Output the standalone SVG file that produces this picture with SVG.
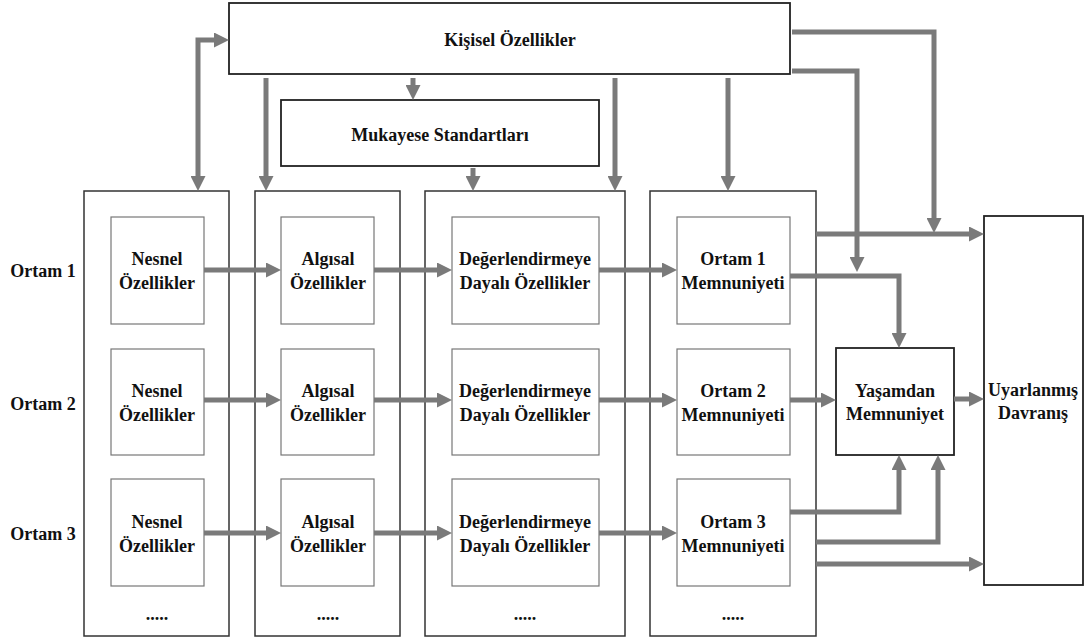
<svg xmlns="http://www.w3.org/2000/svg" width="1084" height="639" viewBox="0 0 1084 639">
<style>
.outer{fill:#fff;stroke:#333;stroke-width:1.5}
.inner{fill:#fff;stroke:#777;stroke-width:1.2}
.box{fill:#fff;stroke:#222;stroke-width:1.8}
text{font-family:"Liberation Serif","Times New Roman",serif;font-weight:bold;font-size:18px;fill:#111;text-anchor:middle}
.lbl{font-size:18px}
.c path{fill:none;stroke:#7a7a7a;stroke-width:5;marker-end:url(#ah)}
</style>
<defs>
<marker id="ah" markerUnits="userSpaceOnUse" markerWidth="15" markerHeight="15" refX="7" refY="7.5" orient="auto-start-reverse">
<path d="M0,0 L15,7.5 L0,15 z" fill="#7a7a7a"/>
</marker>
</defs>
<rect width="1084" height="639" fill="#fff"/>

<g id="kisisel">
<rect class="box" x="229" y="3" width="561" height="71"/>
<text x="510" y="46">Kişisel Özellikler</text>
</g>
<g id="mukayese">
<rect class="box" x="281" y="100" width="318" height="66"/>
<text x="440" y="141">Mukayese Standartları</text>
</g>

<g id="col1">
<rect class="outer" x="84" y="191" width="145" height="445"/>
<text x="157" y="620">.....</text>
</g>
<g id="col2">
<rect class="outer" x="255" y="191" width="145" height="445"/>
<text x="328" y="620">.....</text>
</g>
<g id="col3">
<rect class="outer" x="425" y="191" width="200" height="445"/>
<text x="525" y="620">.....</text>
</g>
<g id="col4">
<rect class="outer" x="650" y="191" width="166" height="445"/>
<text x="733" y="620">.....</text>
</g>

<g id="label-ortam1"><text x="43" y="277">Ortam 1</text></g>
<g id="label-ortam2"><text x="43" y="410">Ortam 2</text></g>
<g id="label-ortam3"><text x="43" y="540">Ortam 3</text></g>

<g id="nesnel1"><rect class="inner" x="111" y="217" width="93" height="107"/><text x="157" y="265">Nesnel</text><text x="157" y="289">Özellikler</text></g>
<g id="nesnel2"><rect class="inner" x="111" y="349" width="93" height="106"/><text x="157" y="397">Nesnel</text><text x="157" y="421">Özellikler</text></g>
<g id="nesnel3"><rect class="inner" x="111" y="479" width="93" height="107"/><text x="157" y="528">Nesnel</text><text x="157" y="552">Özellikler</text></g>

<g id="algisal1"><rect class="inner" x="281" y="217" width="93" height="107"/><text x="328" y="265">Algısal</text><text x="328" y="289">Özellikler</text></g>
<g id="algisal2"><rect class="inner" x="281" y="349" width="93" height="106"/><text x="328" y="397">Algısal</text><text x="328" y="421">Özellikler</text></g>
<g id="algisal3"><rect class="inner" x="281" y="479" width="93" height="107"/><text x="328" y="528">Algısal</text><text x="328" y="552">Özellikler</text></g>

<g id="deger1"><rect class="inner" x="452" y="217" width="147" height="107"/><text x="525" y="265">Değerlendirmeye</text><text x="525" y="289">Dayalı Özellikler</text></g>
<g id="deger2"><rect class="inner" x="452" y="349" width="147" height="106"/><text x="525" y="397">Değerlendirmeye</text><text x="525" y="421">Dayalı Özellikler</text></g>
<g id="deger3"><rect class="inner" x="452" y="479" width="147" height="107"/><text x="525" y="528">Değerlendirmeye</text><text x="525" y="552">Dayalı Özellikler</text></g>

<g id="memnun1"><rect class="inner" x="677" y="217" width="113" height="107"/><text x="733" y="265">Ortam 1</text><text x="733" y="289">Memnuniyeti</text></g>
<g id="memnun2"><rect class="inner" x="677" y="349" width="113" height="106"/><text x="733" y="397">Ortam 2</text><text x="733" y="421">Memnuniyeti</text></g>
<g id="memnun3"><rect class="inner" x="677" y="479" width="113" height="107"/><text x="733" y="528">Ortam 3</text><text x="733" y="552">Memnuniyeti</text></g>

<g id="yasamdan">
<rect class="box" x="836" y="348" width="118" height="107"/>
<text x="895" y="397">Yaşamdan</text><text x="895" y="420">Memnuniyet</text>
</g>
<g id="uyarlanmis">
<rect class="box" x="984" y="216" width="99" height="369"/>
<text x="1033" y="396">Uyarlanmış</text><text x="1033" y="419">Davranış</text>
</g>

<g id="connectors" class="c">
<path d="M198,183 V40 H221" style="marker-start:url(#ah)"/>
<path d="M266,78 V183"/>
<path d="M413,78 V92"/>
<path d="M473,168 V183"/>
<path d="M615,78 V183"/>
<path d="M728,78 V183"/>
<path d="M792,32 H934 V225"/>
<path d="M816,234 H976"/>
<path d="M792,71 H857 V264"/>
<path d="M790,276 H899 V340"/>
<path d="M790,400 H828"/>
<path d="M954,399 H976"/>
<path d="M790,512 H899 V463"/>
<path d="M816,542 H938 V463"/>
<path d="M816,564 H976"/>
<path d="M204,270 H273"/>
<path d="M374,270 H444"/>
<path d="M599,270 H669"/>
<path d="M204,400 H273"/>
<path d="M374,400 H444"/>
<path d="M599,400 H669"/>
<path d="M204,533 H273"/>
<path d="M374,533 H444"/>
<path d="M599,533 H669"/>
</g>
</svg>
